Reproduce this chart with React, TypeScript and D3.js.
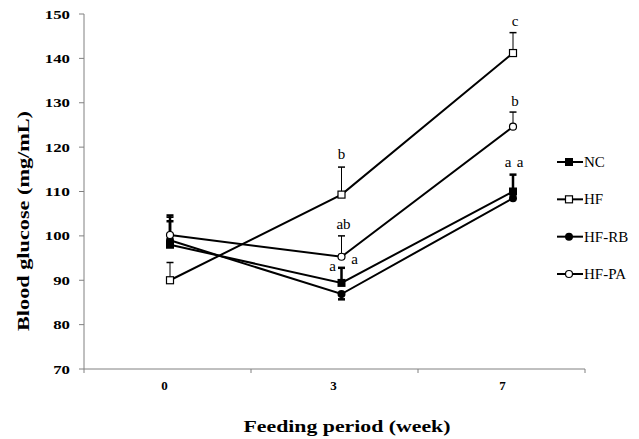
import React from "react";
import * as d3 from "d3";

const weeks = ["0", "3", "7"];
const yTicks = [70, 80, 90, 100, 110, 120, 130, 140, 150];

const seriesNames = ["NC", "HF", "HF-RB", "HF-PA"];
const ncValues = [98, 89.4, 110];
const hfValues = [90, 109.3, 141.2];
const hfrbValues = [99, 86.9, 108.5];
const hfpaValues = [100.2, 95.3, 124.6];

// error (positive = drawn upward, negative = drawn downward)
const ncErr = [5.3, 3.4, 3.8];
const hfErr = [4, 6.2, 4.6];
const hfrbErr = [5.6, -1.2, 0];
const hfpaErr = [4, 4.7, 3.3];

// significance letters
const letterSeries = [1, 3, 0, 3, 1, 3, 0, 0];
const letterWeeks = [1, 1, 1, 1, 2, 2, 2, 2];
const letterTexts = ["b", "ab", "a", "a", "c", "b", "a", "a"];

const FONT = "'Liberation Serif', 'Times New Roman', serif";

export default function App() {
  const W = 639;
  const H = 439;
  const left = 84;
  const right = 585;
  const top = 14;
  const bottom = 369;

  const y = d3.scaleLinear().domain([70, 150]).range([bottom, top]);
  const xBand = d3.scaleBand<string>().domain(weeks).range([left, right]);
  const xPt = d3.scalePoint<string>().domain(weeks).range([170, 513]);

  const values = [ncValues, hfValues, hfrbValues, hfpaValues];
  const errs = [ncErr, hfErr, hfrbErr, hfpaErr];
  const line = d3
    .line<number>()
    .x((_, i) => xPt(weeks[i]) as number)
    .y((v) => y(v));

  const marker = (s: number, cx: number, cy: number, key: string) => {
    if (s === 0)
      return <rect key={key} x={cx - 4} y={cy - 4} width={8} height={8} fill="#000" />;
    if (s === 1)
      return (
        <rect key={key} x={cx - 3.5} y={cy - 3.5} width={7} height={7} fill="#fff" stroke="#000" strokeWidth={1.2} />
      );
    if (s === 2) return <circle key={key} cx={cx} cy={cy} r={4} fill="#000" />;
    return <circle key={key} cx={cx} cy={cy} r={3.5} fill="#fff" stroke="#000" strokeWidth={1.2} />;
  };

  const errWidth = [2.5, 1, 2.5, 1];

  // letter placement offsets (screen px relative to error-bar end)
  const letterDx = [0, 2, -9, 13, 2, 2, -5, 7];
  const letterDy = [-13, -12, -2, 23, -12, -11, -13, -13];

  const legendY = d3.scalePoint<string>().domain(seriesNames).range([162, 274]);

  return (
    <svg width={W} height={H} style={{ position: "absolute", left: 0, top: 0, background: "#fff" }}>
      <rect width={W} height={H} fill="#fff" />
      {/* axes */}
      <line x1={left} x2={left} y1={top} y2={bottom} stroke="#808080" strokeWidth={1} />
      <line x1={left} x2={right} y1={bottom} y2={bottom} stroke="#808080" strokeWidth={1} />
      {yTicks.map((t) => (
        <g key={t}>
          <line x1={left - 5} x2={left} y1={y(t)} y2={y(t)} stroke="#808080" />
          <text
            x={70}
            y={y(t) + 4.5}
            textAnchor="end"
            fontFamily={FONT}
            fontWeight="bold"
            fontSize={13}
            textLength={String(t).length * 8.4}
            lengthAdjust="spacingAndGlyphs"
          >
            {t}
          </text>
        </g>
      ))}
      {[...weeks.map((w) => xBand(w) as number), right].map((px, i) => (
        <line key={i} x1={px} x2={px} y1={bottom} y2={bottom + 4} stroke="#808080" />
      ))}
      {weeks.map((w, i) => (
        <text
          key={w}
          x={(xBand(w) as number) + xBand.bandwidth() / 2 - 3 + i * 2}
          y={390}
          textAnchor="middle"
          fontFamily={FONT}
          fontWeight="bold"
          fontSize={13}
        >
          {w}
        </text>
      ))}
      <text
        x={347}
        y={432}
        textAnchor="middle"
        fontFamily={FONT}
        fontWeight="bold"
        fontSize={16}
        textLength={207}
        lengthAdjust="spacingAndGlyphs"
      >
        Feeding period (week)
      </text>
      <text
        transform={`translate(29,221) rotate(-90)`}
        textAnchor="middle"
        fontFamily={FONT}
        fontWeight="bold"
        fontSize={17}
        textLength={220}
        lengthAdjust="spacingAndGlyphs"
      >
        Blood glucose (mg/mL)
      </text>

      {/* lines */}
      {values.map((v, s) => (
        <path key={s} d={line(v) || ""} fill="none" stroke="#000" strokeWidth={2} />
      ))}
      {/* error bars */}
      {values.map((v, s) =>
        v.map((val, i) => {
          const e = errs[s][i];
          if (!e) return null;
          const cx = xPt(weeks[i]) as number;
          const y0 = y(val);
          const y1 = y(val + e);
          return (
            <g key={`${s}-${i}`} stroke="#000">
              <line x1={cx} x2={cx} y1={y0} y2={y1} strokeWidth={errWidth[s]} />
              <line x1={cx - 3.5} x2={cx + 3.5} y1={y1} y2={y1} strokeWidth={errWidth[s] > 1 ? 2.5 : 1.5} />
            </g>
          );
        })
      )}
      {/* markers */}
      {values.map((v, s) => v.map((val, i) => marker(s, xPt(weeks[i]) as number, y(val), `m${s}-${i}`)))}

      {/* letters */}
      {letterTexts.map((t, k) => {
        const s = letterSeries[k];
        const i = letterWeeks[k];
        const e = Math.max(errs[s][i], 0);
        const cx = xPt(weeks[i]) as number;
        const cy = y(values[s][i] + e);
        return (
          <text
            key={k}
            x={cx + letterDx[k]}
            y={cy + letterDy[k] + 5}
            textAnchor="middle"
            fontFamily={FONT}
            fontSize={15}
          >
            {t}
          </text>
        );
      })}

      {/* legend */}
      {seriesNames.map((n, s) => {
        const ly = legendY(n) as number;
        return (
          <g key={n}>
            <line x1={557} x2={583} y1={ly} y2={ly} stroke="#000" strokeWidth={2} />
            {marker(s, 569, ly, `lg${s}`)}
            <text x={584} y={ly + 5} fontFamily={FONT} fontSize={15}>
              {n}
            </text>
          </g>
        );
      })}
    </svg>
  );
}
